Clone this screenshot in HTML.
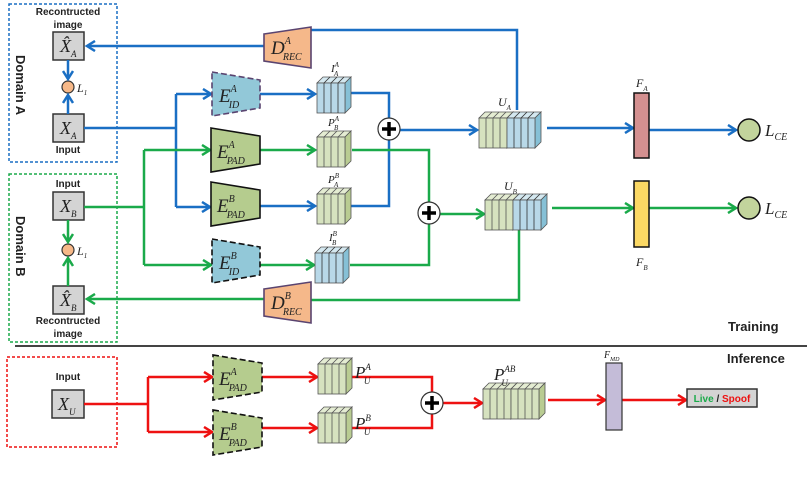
<!DOCTYPE html>
<html><head><meta charset="utf-8"><style>
body{margin:0;background:#fff}
svg{display:block}
.m{font-family:"Liberation Serif",serif;font-style:italic;fill:#222}
.b{font-family:"Liberation Sans",sans-serif;font-weight:bold;fill:#222}
</style></head><body>
<svg width="807" height="489" viewBox="0 0 807 489" xmlns="http://www.w3.org/2000/svg">
<defs>
<marker id="ab" viewBox="0 0 12 12" refX="10" refY="6" markerWidth="12" markerHeight="12" markerUnits="userSpaceOnUse" orient="auto"><path d="M2,1 L10,6 L2,11" fill="none" stroke="#1a6fc4" stroke-width="2.5"/></marker>
<marker id="ag" viewBox="0 0 12 12" refX="10" refY="6" markerWidth="12" markerHeight="12" markerUnits="userSpaceOnUse" orient="auto"><path d="M2,1 L10,6 L2,11" fill="none" stroke="#1aaa4a" stroke-width="2.5"/></marker>
<marker id="ar" viewBox="0 0 12 12" refX="10" refY="6" markerWidth="12" markerHeight="12" markerUnits="userSpaceOnUse" orient="auto"><path d="M2,1 L10,6 L2,11" fill="none" stroke="#ee1111" stroke-width="2.5"/></marker>
<g id="cg" stroke="#555" stroke-width="0.8">
<polygon points="0,6 6,0 34,0 28,6" fill="#e4ecd2"/>
<polygon points="28,6 34,0 34,30 28,36" fill="#b9cc92"/>
<rect x="0" y="6" width="28" height="30" fill="#d6e2bf"/>
<path d="M7,6V36M14,6V36M21,6V36M7,6l6,-6M14,6l6,-6M21,6l6,-6" fill="none"/>
</g>
<g id="cb" stroke="#555" stroke-width="0.8">
<polygon points="0,6 6,0 34,0 28,6" fill="#d4e8f0"/>
<polygon points="28,6 34,0 34,30 28,36" fill="#86c0d6"/>
<rect x="0" y="6" width="28" height="30" fill="#b8d8e8"/>
<path d="M7,6V36M14,6V36M21,6V36M7,6l6,-6M14,6l6,-6M21,6l6,-6" fill="none" stroke="#333"/>
</g>
</defs>

<!-- domain boxes -->
<rect x="9" y="4" width="108" height="158" fill="none" stroke="#1a6fc4" stroke-width="1.5" stroke-dasharray="3,2"/>
<rect x="9" y="174" width="108" height="168" fill="none" stroke="#1aaa4a" stroke-width="1.5" stroke-dasharray="3,2"/>
<text class="b" font-size="13" transform="translate(16,55) rotate(90)">Domain A</text>
<text class="b" font-size="13" transform="translate(16,216) rotate(90)">Domain B</text>
<text class="b" font-size="10" x="68" y="15" text-anchor="middle">Recontructed</text>
<text class="b" font-size="10" x="68" y="28" text-anchor="middle">image</text>
<text class="b" font-size="10" x="68" y="153" text-anchor="middle">Input</text>
<text class="b" font-size="10" x="68" y="187" text-anchor="middle">Input</text>
<text class="b" font-size="10" x="68" y="324" text-anchor="middle">Recontructed</text>
<text class="b" font-size="10" x="68" y="337" text-anchor="middle">image</text>

<g fill="#d4d4d4" stroke="#333" stroke-width="1.5">
<rect x="53" y="32" width="31" height="28"/><rect x="53" y="114" width="31" height="28"/>
<rect x="53" y="192" width="31" height="28"/><rect x="53" y="286" width="31" height="28"/>
<rect x="52" y="390" width="32" height="28"/>
</g>
<text class="m" font-size="18" x="60" y="52">X̂<tspan font-size="9" dy="5">A</tspan></text>
<text class="m" font-size="18" x="60" y="134">X<tspan font-size="9" dy="5">A</tspan></text>
<text class="m" font-size="18" x="60" y="212">X<tspan font-size="9" dy="5">B</tspan></text>
<text class="m" font-size="18" x="60" y="306">X̂<tspan font-size="9" dy="5">B</tspan></text>
<text class="m" font-size="18" x="58" y="410">X<tspan font-size="9" dy="5">U</tspan></text>

<circle cx="68" cy="87" r="6" fill="#f6b888" stroke="#333" stroke-width="1.2"/>
<circle cx="68" cy="250" r="6" fill="#f6b888" stroke="#333" stroke-width="1.2"/>
<text class="m" font-size="12" x="77" y="92">L<tspan font-size="7" dy="3">1</tspan></text>
<text class="m" font-size="12" x="77" y="255">L<tspan font-size="7" dy="3">1</tspan></text>

<!-- blue lines -->
<g fill="none" stroke="#1a6fc4" stroke-width="2.5">
<path d="M68,60V79" marker-end="url(#ab)"/>
<path d="M68,114V95" marker-end="url(#ab)"/>
<path d="M84,128H176"/>
<path d="M176,94V207"/>
<path d="M176,94H211" marker-end="url(#ab)"/>
<path d="M176,207H210" marker-end="url(#ab)"/>
<path d="M260,94H315" marker-end="url(#ab)"/>
<path d="M260,206H315" marker-end="url(#ab)"/>
<path d="M350,93H389V206H350"/>
<path d="M400,130H477" marker-end="url(#ab)"/>
<path d="M517,110V30H311"/>
<path d="M264,46H87" marker-end="url(#ab)"/>
<path d="M547,128H633" marker-end="url(#ab)"/>
<path d="M649,130H736" marker-end="url(#ab)"/>
</g>
<!-- green lines -->
<g fill="none" stroke="#1aaa4a" stroke-width="2.5">
<path d="M68,220V242" marker-end="url(#ag)"/>
<path d="M68,286V258" marker-end="url(#ag)"/>
<path d="M84,207H144"/>
<path d="M144,150V265"/>
<path d="M144,150H210" marker-end="url(#ag)"/>
<path d="M144,265H211" marker-end="url(#ag)"/>
<path d="M260,150H315" marker-end="url(#ag)"/>
<path d="M260,265H314" marker-end="url(#ag)"/>
<path d="M352,150H429V265H350"/>
<path d="M440,214H484" marker-end="url(#ag)"/>
<path d="M519,230V300H311"/>
<path d="M264,299H87" marker-end="url(#ag)"/>
<path d="M552,208H633" marker-end="url(#ag)"/>
<path d="M649,208H736" marker-end="url(#ag)"/>
</g>
<!-- red lines -->
<g fill="none" stroke="#ee1111" stroke-width="2.5">
<path d="M84,404H148"/>
<path d="M148,377V432"/>
<path d="M148,377H212" marker-end="url(#ar)"/>
<path d="M148,432H212" marker-end="url(#ar)"/>
<path d="M262,377H317" marker-end="url(#ar)"/>
<path d="M262,428H317" marker-end="url(#ar)"/>
<path d="M352,377H432V428H352"/>
<path d="M443,403H482" marker-end="url(#ar)"/>
<path d="M548,400H605" marker-end="url(#ar)"/>
<path d="M622,400H686" marker-end="url(#ar)"/>
</g>

<!-- encoders -->
<polygon points="212,72 260,80 260,108 212,116" fill="#92c8d8" stroke="#5a4470" stroke-width="1.6" stroke-dasharray="6,3"/>
<polygon points="211,128 260,136 260,164 211,172" fill="#b5cc8e" stroke="#111" stroke-width="1.6"/>
<polygon points="211,182 260,190 260,218 211,226" fill="#b5cc8e" stroke="#111" stroke-width="1.6"/>
<polygon points="212,239 260,247 260,275 212,283" fill="#92c8d8" stroke="#111" stroke-width="1.6" stroke-dasharray="6,3"/>
<polygon points="213,355 262,363 262,392 213,400" fill="#b5cc8e" stroke="#111" stroke-width="1.6" stroke-dasharray="6,3"/>
<polygon points="213,410 262,418 262,447 213,455" fill="#b5cc8e" stroke="#111" stroke-width="1.6" stroke-dasharray="6,3"/>
<text class="m" font-size="19" x="219" y="102">E<tspan font-size="10" dy="-10">A</tspan><tspan font-size="10" dx="-8" dy="16">ID</tspan></text>
<text class="m" font-size="19" x="217" y="158">E<tspan font-size="10" dy="-10">A</tspan><tspan font-size="10" dx="-8" dy="16">PAD</tspan></text>
<text class="m" font-size="19" x="217" y="212">E<tspan font-size="10" dy="-10">B</tspan><tspan font-size="10" dx="-8" dy="16">PAD</tspan></text>
<text class="m" font-size="19" x="219" y="269">E<tspan font-size="10" dy="-10">B</tspan><tspan font-size="10" dx="-8" dy="16">ID</tspan></text>
<text class="m" font-size="19" x="219" y="385">E<tspan font-size="10" dy="-10">A</tspan><tspan font-size="10" dx="-8" dy="16">PAD</tspan></text>
<text class="m" font-size="19" x="219" y="440">E<tspan font-size="10" dy="-10">B</tspan><tspan font-size="10" dx="-8" dy="16">PAD</tspan></text>

<!-- decoders -->
<polygon points="264,34 311,27 311,68 264,61" fill="#f5b88a" stroke="#5a4470" stroke-width="1.6"/>
<polygon points="264,289 311,282 311,323 264,316" fill="#f5b88a" stroke="#5a4470" stroke-width="1.6"/>
<text class="m" font-size="19" x="271" y="54">D<tspan font-size="10" dy="-10">A</tspan><tspan font-size="10" dx="-8" dy="16">REC</tspan></text>
<text class="m" font-size="19" x="271" y="309">D<tspan font-size="10" dy="-10">B</tspan><tspan font-size="10" dx="-8" dy="16">REC</tspan></text>

<!-- cubes -->
<use href="#cb" x="317" y="77"/>
<use href="#cg" x="317" y="131"/>
<use href="#cg" x="317" y="188"/>
<use href="#cb" x="315" y="247"/>
<use href="#cg" x="318" y="358"/>
<use href="#cg" x="318" y="407"/>
<text class="m" font-size="11" x="331" y="72">I<tspan font-size="7" dy="-5">A</tspan><tspan font-size="7" dx="-5" dy="9">A</tspan></text>
<text class="m" font-size="11" x="328" y="126">P<tspan font-size="7" dy="-5">A</tspan><tspan font-size="7" dx="-5" dy="9">B</tspan></text>
<text class="m" font-size="11" x="328" y="183">P<tspan font-size="7" dy="-5">B</tspan><tspan font-size="7" dx="-5" dy="9">A</tspan></text>
<text class="m" font-size="11" x="329" y="241">I<tspan font-size="7" dy="-5">B</tspan><tspan font-size="7" dx="-5" dy="9">B</tspan></text>
<text class="m" font-size="17" x="355" y="378">P<tspan font-size="9" dy="-8">A</tspan><tspan font-size="9" dx="-7" dy="14">U</tspan></text>
<text class="m" font-size="17" x="355" y="429">P<tspan font-size="9" dy="-8">B</tspan><tspan font-size="9" dx="-7" dy="14">U</tspan></text>

<!-- U_A -->
<use href="#cg" x="479" y="112"/>
<use href="#cb" x="507" y="112"/>
<use href="#cg" x="485" y="194"/>
<use href="#cb" x="513" y="194"/>
<use href="#cg" x="483" y="383"/>
<use href="#cg" x="511" y="383"/>
<text class="m" font-size="12" x="498" y="106">U<tspan font-size="7" dy="4">A</tspan></text>
<text class="m" font-size="12" x="504" y="190">U<tspan font-size="7" dy="4">B</tspan></text>
<text class="m" font-size="17" x="494" y="380">P<tspan font-size="9" dy="-8">AB</tspan><tspan font-size="9" dx="-14" dy="14">U</tspan></text>

<!-- plus -->
<g stroke="#333" stroke-width="1.2" fill="#fff">
<circle cx="389" cy="129" r="11"/><circle cx="429" cy="213" r="11"/><circle cx="432" cy="403" r="11"/>
</g>
<g stroke="#000" stroke-width="3.5">
<path d="M382,129H396M389,122V136M422,213H436M429,206V220M425,403H439M432,396V410"/>
</g>

<!-- F bars -->
<rect x="634" y="93" width="15" height="65" fill="#d49090" stroke="#111" stroke-width="1.5"/>
<rect x="634" y="181" width="15" height="66" fill="#fbd864" stroke="#111" stroke-width="1.5"/>
<rect x="606" y="363" width="16" height="67" fill="#c4bcd8" stroke="#333" stroke-width="1.2"/>
<text class="m" font-size="12" x="636" y="87">F<tspan font-size="7" dy="4">A</tspan></text>
<text class="m" font-size="12" x="636" y="266">F<tspan font-size="7" dy="4">B</tspan></text>
<text class="m" font-size="10" x="604" y="358">F<tspan font-size="6" dy="3">MD</tspan></text>

<circle cx="749" cy="130" r="11" fill="#c2d49c" stroke="#111" stroke-width="1.5"/>
<circle cx="749" cy="208" r="11" fill="#c2d49c" stroke="#111" stroke-width="1.5"/>
<text class="m" font-size="17" x="765" y="136">L<tspan font-size="10" dy="4">CE</tspan></text>
<text class="m" font-size="17" x="765" y="214">L<tspan font-size="10" dy="4">CE</tspan></text>

<text class="b" font-size="13" x="728" y="331">Training</text>
<path d="M15,346H807" stroke="#444" stroke-width="2"/>
<text class="b" font-size="13" x="727" y="363">Inference</text>

<rect x="7" y="357" width="110" height="90" fill="none" stroke="#ee1111" stroke-width="1.5" stroke-dasharray="3,2"/>
<text class="b" font-size="10" x="68" y="380" text-anchor="middle">Input</text>

<rect x="687" y="389" width="70" height="18" fill="#d4d4d4" stroke="#333" stroke-width="1.5"/>
<text class="b" font-size="10" x="722" y="402" text-anchor="middle"><tspan fill="#1aaa4a">Live</tspan> / <tspan fill="#ee1111">Spoof</tspan></text>
</svg>
</body></html>
